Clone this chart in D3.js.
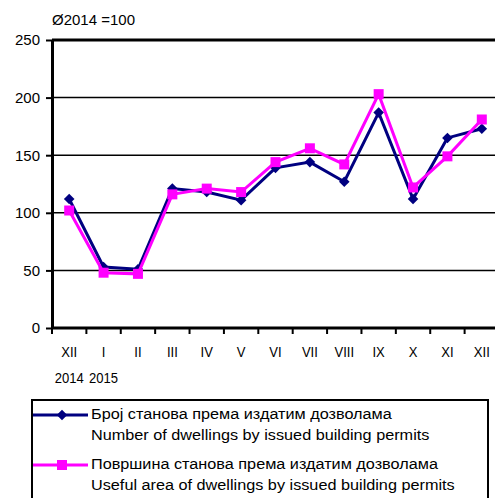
<!DOCTYPE html>
<html>
<head>
<meta charset="utf-8">
<script src="https://cdn.jsdelivr.net/npm/d3@7"></script>
<style>
    body { margin: 0; background: #fff; }
    svg { font-family: "Liberation Sans", Arial, sans-serif; }
</style>
</head>
<body>
<svg id="SVGlineChart" width="495" height="498"></svg>
<script>
"use strict";

// months (roman numerals), year labels under the first two
const months = ["XII", "I", "II", "III", "IV", "V", "VI", "VII", "VIII", "IX", "X", "XI", "XII"];
const years = ["2014", "2015"];
const yTicks = [0, 50, 100, 150, 200, 250];

// index, average 2014 = 100
const dwellings = [112, 53, 51, 121, 118, 111, 139, 144, 127, 187, 112, 165, 173];
const usefulArea = [102, 48, 47, 116, 121, 118, 144, 156, 142, 203, 122, 149, 181];

const legendLabels = [
    ["Број станова према издатим дозволама", "Number of dwellings by issued building permits"],
    ["Површина станова према издатим дозволама", "Useful area of dwellings by issued building permits"]
];

const chart = {
    SVG: d3.select("#SVGlineChart"),
    padding: { top: 40, right: -4, bottom: 170, left: 52 },
    width: 495,
    height: 498,
    render: () => {
        const svg = chart.SVG;
        const x = d3.scaleBand()
            .domain(d3.range(months.length))
            .range([chart.padding.left, chart.width - chart.padding.right]);
        const y = d3.scaleLinear()
            .domain([0, 250])
            .range([chart.height - chart.padding.bottom, chart.padding.top]);
        const cx = i => x(i) + x.bandwidth() / 2;

        // gridlines
        svg.append("g")
            .selectAll("line")
            .data(yTicks.slice(1, -1))
            .enter()
            .append("line")
            .attr("x1", chart.padding.left)
            .attr("x2", chart.width)
            .attr("y1", d => y(d))
            .attr("y2", d => y(d))
            .style("stroke", "#000")
            .style("stroke-width", 1.5);
        // top border
        svg.append("line")
            .attr("x1", chart.padding.left)
            .attr("x2", chart.width)
            .attr("y1", y(250))
            .attr("y2", y(250))
            .style("stroke", "#000")
            .style("stroke-width", 3);

        // y axis
        const yAxis = svg.append("g")
            .attr("transform", "translate(" + chart.padding.left + ",0)")
            .call(d3.axisLeft(y).tickValues(yTicks).tickSize(6).tickSizeOuter(0).tickPadding(6));
        yAxis.select(".domain").style("stroke-width", 3);
        yAxis.selectAll(".tick line").style("stroke-width", 2);
        yAxis.selectAll("text").style("font-size", "15px").style("fill", "#000");

        // x axis with ticks on band boundaries
        const xAxis = svg.append("g")
            .attr("transform", "translate(0," + y(0) + ")");
        xAxis.append("line")
            .attr("x1", chart.padding.left)
            .attr("x2", chart.width)
            .style("stroke", "#000")
            .style("stroke-width", 3);
        xAxis.selectAll(".xtick")
            .data(d3.range(months.length))
            .enter()
            .append("line")
            .attr("class", "xtick")
            .attr("x1", d => x(d))
            .attr("x2", d => x(d))
            .attr("y1", 0)
            .attr("y2", 6)
            .style("stroke", "#000")
            .style("stroke-width", 2);
        // labels are a bit narrower than the font, squeeze them horizontally
        const sx = 0.87;
        xAxis.selectAll(".xlabel")
            .data(months)
            .enter()
            .append("text")
            .attr("class", "xlabel")
            .attr("transform", (d, i) => "translate(" + cx(i) + ",29) scale(" + sx + ",1)")
            .attr("text-anchor", "middle")
            .style("font-size", "15px")
            .text(d => d);
        xAxis.selectAll(".ylabel")
            .data(years)
            .enter()
            .append("text")
            .attr("class", "ylabel")
            .attr("transform", (d, i) => "translate(" + cx(i) + ",55) scale(" + sx + ",1)")
            .attr("text-anchor", "middle")
            .style("font-size", "15px")
            .text(d => d);

        // title
        svg.append("text")
            .attr("x", chart.padding.left)
            .attr("y", 25)
            .style("font-size", "15px")
            .text("Ø2014 =100");

        // series
        const line = d3.line().x((d, i) => cx(i)).y(d => y(d));
        // diamond = square turned 45 degrees
        const diamond = d3.symbol().type(d3.symbolSquare).size(56);
        const square = d3.symbol().type(d3.symbolSquare).size(100);

        svg.append("path")
            .datum(dwellings)
            .attr("d", line)
            .style("fill", "none")
            .style("stroke", "#000080")
            .style("stroke-width", 3);
        svg.selectAll(".dw")
            .data(dwellings)
            .enter()
            .append("path")
            .attr("class", "dw")
            .attr("transform", (d, i) => "translate(" + cx(i) + "," + y(d) + ") rotate(45)")
            .attr("d", diamond)
            .style("fill", "#000080");

        svg.append("path")
            .datum(usefulArea)
            .attr("d", line)
            .style("fill", "none")
            .style("stroke", "#ff00ff")
            .style("stroke-width", 3);
        svg.selectAll(".ua")
            .data(usefulArea)
            .enter()
            .append("path")
            .attr("class", "ua")
            .attr("transform", (d, i) => "translate(" + cx(i) + "," + y(d) + ")")
            .attr("d", square)
            .style("fill", "#ff00ff");

        // legend
        const legend = svg.append("g");
        legend.append("rect")
            .attr("x", 32)
            .attr("y", 400)
            .attr("width", 456)
            .attr("height", 120)
            .style("fill", "#fff")
            .style("stroke", "#000")
            .style("stroke-width", 2);
        const items = [
            { color: "#000080", symbol: diamond, rotate: 45, labels: legendLabels[0] },
            { color: "#ff00ff", symbol: square, rotate: 0, labels: legendLabels[1] }
        ];
        const item = legend.selectAll(".item")
            .data(items)
            .enter()
            .append("g")
            .attr("class", "item")
            .attr("transform", (d, i) => "translate(0," + (415 + i * 50) + ")");
        item.append("line")
            .attr("x1", 33)
            .attr("x2", 88)
            .style("stroke", d => d.color)
            .style("stroke-width", 3);
        item.append("path")
            .attr("transform", d => "translate(62,0) rotate(" + d.rotate + ")")
            .attr("d", d => d.symbol())
            .style("fill", d => d.color);
        // legend text is wider than the font, stretch it
        const lx = 1.16;
        item.append("text")
            .attr("transform", "translate(91,4) scale(" + lx + ",1)")
            .style("font-size", "14px")
            .text(d => d.labels[0]);
        item.append("text")
            .attr("transform", "translate(91,25) scale(" + lx + ",1)")
            .style("font-size", "14px")
            .text(d => d.labels[1]);
    }
};

chart.render();
</script>
</body>
</html>
